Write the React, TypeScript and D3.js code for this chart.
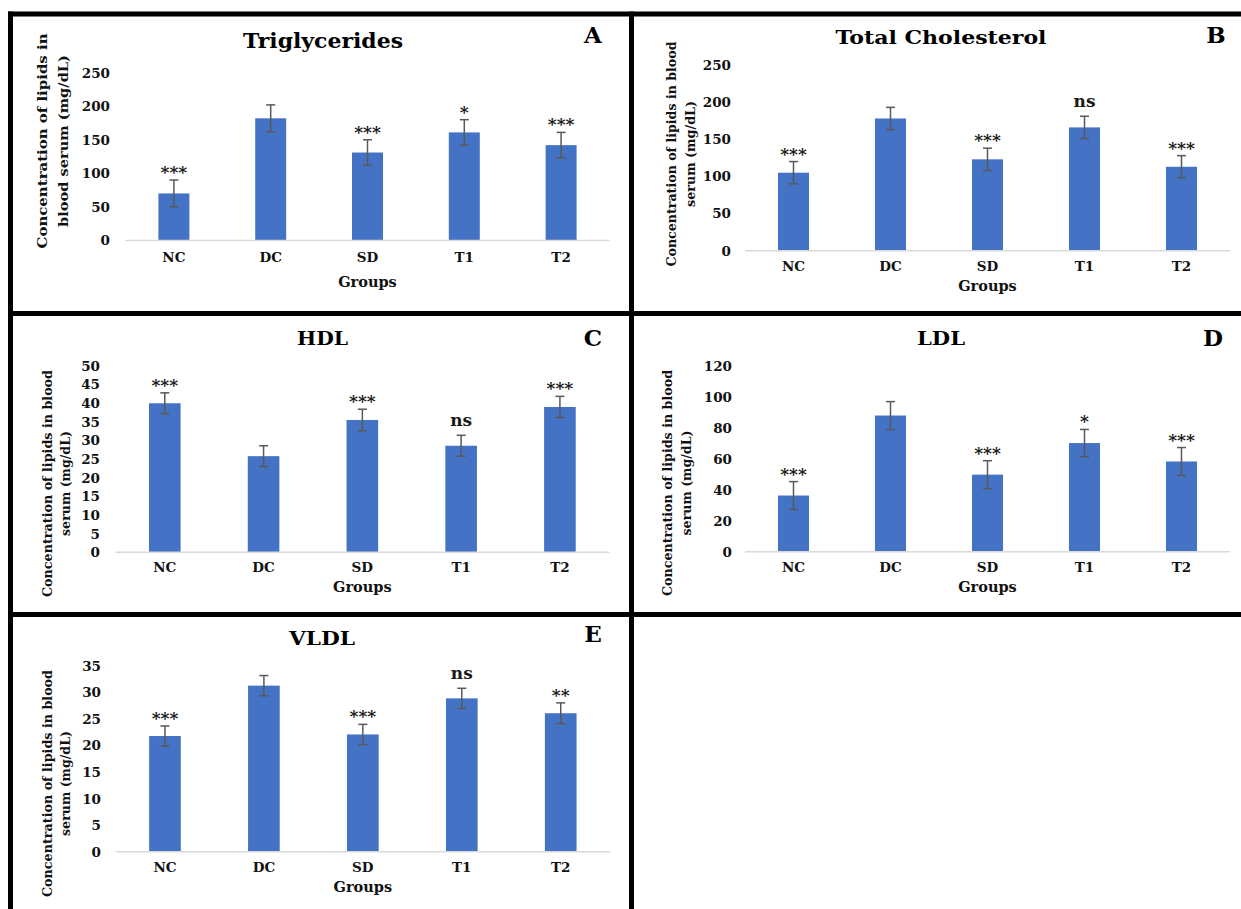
import React, { useRef, useEffect } from 'react';
import * as d3 from 'd3';

// groups on the x axis
const groups = ['NC', 'DC', 'SD', 'T1', 'T2'];

// Triglycerides
const tgMeans = [70, 182, 131, 161, 142];
const tgErrors = [20, 20, 19, 19, 19];
const tgSig = ['***', '', '***', '*', '***'];

// Total cholesterol
const tcMeans = [105, 178, 123, 166, 113];
const tcErrors = [15, 15, 15, 15, 15];
const tcSig = ['***', '', '***', 'ns', '***'];

// HDL
const hdlMeans = [40, 25.8, 35.5, 28.6, 39];
const hdlErrors = [2.8, 2.8, 2.9, 2.8, 2.85];
const hdlSig = ['***', '', '***', 'ns', '***'];

// LDL
const ldlMeans = [36.3, 88, 49.8, 70.2, 58.3];
const ldlErrors = [9, 9, 9, 8.8, 9];
const ldlSig = ['***', '', '***', '*', '***'];

// VLDL
const vldlMeans = [21.8, 31.3, 22.1, 28.9, 26.1];
const vldlErrors = [1.9, 1.9, 1.9, 1.9, 1.95];
const vldlSig = ['***', '', '***', 'ns', '**'];

const FONT = '"DejaVu Serif", serif';
const BLUE = '#4472C4';

// each chart: content + where it sits on the page
const panels = [
  { title: 'Triglycerides', letter: 'A', means: tgMeans, errors: tgErrors, sig: tgSig, yMax: 250, step: 50,
    yTitle: ['Concentration of lipids in', 'blood serum (mg/dL)'], yTitleW: [215, 172],
    x0: 125.5, x1: 609.5, yTop: 72.7, yBase: 240.4, tickX: 110, yTitleX: [42.5, 63.5], yTitleY: 141,
    titleX: 323, titleY: 48, titleSize: 20, titleW: 160, letterX: 593, letterY: 43, catY: 262, groupsY: 287, yTitleSize: 13.5 },
  { title: 'Total Cholesterol', letter: 'B', means: tcMeans, errors: tcErrors, sig: tcSig, yMax: 250, step: 50,
    yTitle: ['Concentration of lipids in blood', 'serum (mg/dL)'], yTitleW: [225, 106],
    x0: 745, x1: 1230, yTop: 65, yBase: 250.7, tickX: 731, yTitleX: [672, 691], yTitleY: 154,
    titleX: 941, titleY: 44, titleSize: 19, titleW: 211, letterX: 1216, letterY: 43, catY: 271, groupsY: 291, yTitleSize: 12.5 },
  { title: 'HDL', letter: 'C', means: hdlMeans, errors: hdlErrors, sig: hdlSig, yMax: 50, step: 5,
    yTitle: ['Concentration of lipids in blood', 'serum (mg/dL)'], yTitleW: [227, 105],
    x0: 115.4, x1: 609.3, yTop: 366, yBase: 552.3, tickX: 100, yTitleX: [47.6, 65.8], yTitleY: 483.5,
    titleX: 322.5, titleY: 345, titleSize: 18, titleW: 51, letterX: 593, letterY: 346, catY: 572, groupsY: 592, yTitleSize: 12.5 },
  { title: 'LDL', letter: 'D', means: ldlMeans, errors: ldlErrors, sig: ldlSig, yMax: 120, step: 20,
    yTitle: ['Concentration of lipids in blood', 'serum (mg/dL)'], yTitleW: [226, 105],
    x0: 745, x1: 1230, yTop: 366, yBase: 551.7, tickX: 732, yTitleX: [668, 687], yTitleY: 483,
    titleX: 941, titleY: 345, titleSize: 18, titleW: 48, letterX: 1213, letterY: 346, catY: 572, groupsY: 592, yTitleSize: 12.5 },
  { title: 'VLDL', letter: 'E', means: vldlMeans, errors: vldlErrors, sig: vldlSig, yMax: 35, step: 5,
    yTitle: ['Concentration of lipids in blood', 'serum (mg/dL)'], yTitleW: [227, 105],
    x0: 115.5, x1: 610.2, yTop: 666, yBase: 851.7, tickX: 101, yTitleX: [48, 66], yTitleY: 783.5,
    titleX: 322, titleY: 645, titleSize: 18, titleW: 66, letterX: 593, letterY: 642, catY: 872, groupsY: 892, yTitleSize: 12.5 },
];

const W = 1241;
const H = 909;

const App = () => {
  const svgRef = useRef(null);

  useEffect(() => {
    document.body.style.margin = '0';
    const svg = d3.select(svgRef.current);
    svg.selectAll('*').remove();

    svg.append('rect').attr('width', W).attr('height', H).attr('fill', '#fff');

    panels.forEach(p => {
      const g = svg.append('g');
      const x = d3.scaleBand().domain(groups).range([p.x0, p.x1]);
      const y = d3.scaleLinear().domain([0, p.yMax]).range([p.yBase, p.yTop]);
      const bw = x.bandwidth() * 0.32;
      const cx = name => x(name) + x.bandwidth() / 2;
      const rows = groups.map((name, i) => ({ name, v: p.means[i], e: p.errors[i], s: p.sig[i] }));

      // y tick labels (no axis line, no gridlines)
      g.selectAll('.tick')
        .data(d3.range(0, p.yMax + p.step / 2, p.step))
        .join('text')
        .attr('x', p.tickX)
        .attr('y', d => y(d))
        .attr('dy', '0.36em')
        .attr('text-anchor', 'end')
        .attr('font-family', FONT)
        .attr('font-weight', 'bold')
        .attr('font-size', 13.5)
        .attr('fill', '#111')
        .text(d => d);

      // bars
      g.selectAll('.bar')
        .data(rows)
        .join('rect')
        .attr('x', d => cx(d.name) - bw / 2)
        .attr('y', d => y(d.v))
        .attr('width', bw)
        .attr('height', d => y(0) - y(d.v))
        .attr('fill', BLUE);

      // baseline
      g.append('line')
        .attr('x1', p.x0).attr('x2', p.x1)
        .attr('y1', y(0)).attr('y2', y(0))
        .attr('stroke', '#D9D9D9').attr('stroke-width', 1.5);

      // error bars
      const eb = g.selectAll('.err').data(rows).join('g')
        .attr('stroke', '#595959').attr('stroke-width', 1.5);
      eb.append('line')
        .attr('x1', d => cx(d.name)).attr('x2', d => cx(d.name))
        .attr('y1', d => y(d.v - d.e)).attr('y2', d => y(d.v + d.e));
      [1, -1].forEach(sgn => {
        eb.append('line')
          .attr('x1', d => cx(d.name) - 4.5)
          .attr('x2', d => cx(d.name) + 4.5)
          .attr('y1', d => y(d.v + sgn * d.e)).attr('y2', d => y(d.v + sgn * d.e));
      });

      // significance marks
      g.selectAll('.sig')
        .data(rows.filter(d => d.s))
        .join('text')
        .attr('x', d => cx(d.name))
        .attr('y', d => y(d.v + d.e) + (d.s === 'ns' ? -9 : -2))
        .attr('text-anchor', 'middle')
        .attr('font-family', FONT)
        .attr('font-weight', 'bold')
        .attr('font-size', 17)
        .attr('fill', '#1a1a1a')
        .text(d => d.s);

      // category labels
      g.selectAll('.cat')
        .data(groups)
        .join('text')
        .attr('x', d => cx(d))
        .attr('y', p.catY)
        .attr('text-anchor', 'middle')
        .attr('font-family', FONT)
        .attr('font-weight', 'bold')
        .attr('font-size', 13.5)
        .attr('fill', '#111')
        .text(d => d);

      g.append('text')
        .attr('x', cx('SD'))
        .attr('y', p.groupsY)
        .attr('text-anchor', 'middle')
        .attr('font-family', FONT)
        .attr('font-weight', 'bold')
        .attr('font-size', 14.5)
        .attr('fill', '#111')
        .text('Groups');

      // y axis title, two rotated lines
      p.yTitle.forEach((line, i) => {
        g.append('text')
          .attr('transform', `translate(${p.yTitleX[i]},${p.yTitleY}) rotate(-90)`)
          .attr('dy', '0.35em')
          .attr('text-anchor', 'middle')
          .attr('font-family', FONT)
          .attr('font-weight', 'bold')
          .attr('font-size', p.yTitleSize)
          .attr('textLength', p.yTitleW[i])
          .attr('lengthAdjust', 'spacingAndGlyphs')
          .attr('fill', '#111')
          .text(line);
      });

      g.append('text')
        .attr('x', p.titleX).attr('y', p.titleY)
        .attr('text-anchor', 'middle')
        .attr('font-family', FONT)
        .attr('font-weight', 'bold')
        .attr('font-size', p.titleSize)
        .attr('textLength', p.titleW)
        .attr('lengthAdjust', 'spacingAndGlyphs')
        .text(p.title);

      g.append('text')
        .attr('x', p.letterX).attr('y', p.letterY)
        .attr('text-anchor', 'middle')
        .attr('font-family', FONT)
        .attr('font-weight', 'bold')
        .attr('font-size', 23)
        .text(p.letter);
    });

    // panel frames
    const frame = svg.append('g').attr('stroke', '#000').attr('stroke-width', 5);
    frame.append('line').attr('x1', 8).attr('x2', W).attr('y1', 14).attr('y2', 14);
    frame.append('line').attr('x1', 8).attr('x2', W).attr('y1', 313.5).attr('y2', 313.5);
    frame.append('line').attr('x1', 8).attr('x2', W).attr('y1', 614.5).attr('y2', 614.5);
    frame.append('line').attr('x1', 10.5).attr('x2', 10.5).attr('y1', 11.5).attr('y2', H);
    frame.append('line').attr('x1', 631.5).attr('x2', 631.5).attr('y1', 11.5).attr('y2', H);
  }, []);

  return <svg ref={svgRef} width={W} height={H} style={{ display: 'block' }}></svg>;
};

export default App;
